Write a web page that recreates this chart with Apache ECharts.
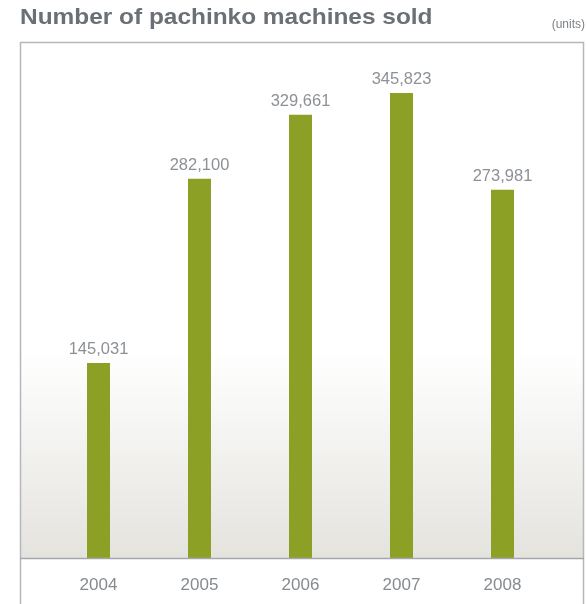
<!DOCTYPE html>
<html>
<head>
<meta charset="utf-8">
<script src="https://cdn.jsdelivr.net/npm/echarts@6/dist/echarts.min.js"></script>
<style>
    html, body { margin: 0; padding: 0; background: #fff; }
    #chart { width: 587px; height: 604px; }
</style>
</head>
<body>
<div id="chart"></div>
<script>
// data
const years = ['2004', '2005', '2006', '2007', '2008'];
const unitsSold = [145031, 282100, 329661, 345823, 273981];

const chart = echarts.init(document.getElementById('chart'));

const textFont = '"Liberation Sans", Arial, sans-serif';

const option = {
    backgroundColor: '#fff',
    animation: false,
    graphic: [
        // title (a bit wider than the plain font, so stretched slightly)
        {
            type: 'text',
            x: 20,
            y: 7,
            scaleX: 1.11,
            style: {
                text: 'Number of pachinko machines sold',
                fontFamily: textFont,
                fontSize: 22,
                fontWeight: 'bold',
                fill: '#6a7075'
            }
        },
        // gradient background inside the frame
        {
            type: 'rect',
            z: -10,
            shape: { x: 20, y: 42, width: 564, height: 516 },
            style: {
                fill: new echarts.graphic.LinearGradient(0, 0, 0, 1, [
                    { offset: 0, color: '#ffffff' },
                    { offset: 0.6, color: '#ffffff' },
                    { offset: 1, color: '#e4e3de' }
                ])
            }
        },
        // frame: left, top, right
        {
            type: 'polyline',
            z: -5,
            shape: { points: [[20.5, 604], [20.5, 42.5], [583.5, 42.5], [583.5, 604]] },
            style: { stroke: '#b4b8bc', lineWidth: 1.5, fill: null }
        },
        // baseline across the whole frame
        {
            type: 'line',
            z: 10,
            shape: { x1: 20, y1: 558.5, x2: 584, y2: 558.5 },
            style: { stroke: '#a3a7ab', lineWidth: 1.5 }
        },
        {
            type: 'text',
            right: 2,
            top: 19,
            style: {
                text: '(units)',
                fontFamily: textFont,
                fontSize: 12,
                fill: '#7d8287'
            }
        }
    ],
    grid: {
        left: 48,
        right: 34,
        top: 42,
        bottom: 46
    },
    xAxis: {
        type: 'category',
        data: years,
        axisTick: { show: false },
        axisLine: { show: false },
        axisLabel: {
            margin: 19,
            fontFamily: textFont,
            fontSize: 17,
            color: '#868b90'
        }
    },
    yAxis: {
        type: 'value',
        min: 0,
        max: 383800,
        show: false,
        splitLine: { show: false }
    },
    series: [
        {
            type: 'bar',
            data: unitsSold,
            barWidth: 23,
            itemStyle: { color: '#8ca025' },
            label: {
                show: true,
                position: 'top',
                distance: 5,
                fontFamily: textFont,
                fontSize: 16.5,
                color: '#8c9196',
                formatter: p => p.value.toLocaleString('en-US')
            }
        }
    ]
};

chart.setOption(option);
</script>
</body>
</html>
